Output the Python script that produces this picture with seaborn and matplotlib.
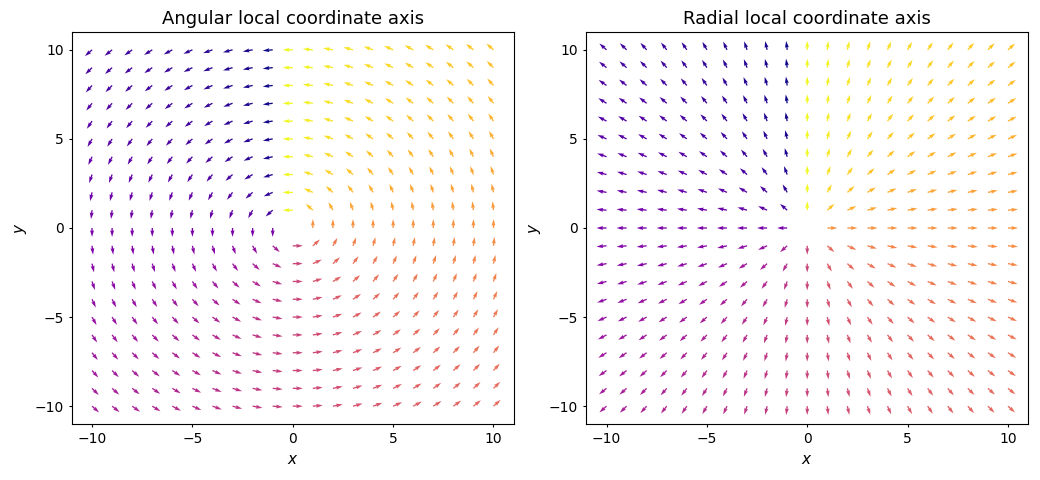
import numpy as np
import matplotlib
matplotlib.use("Agg")
import matplotlib.pyplot as plt
import seaborn as sns

# grid coordinates (both axes)
grid_vals = [-10, -9, -8, -7, -6, -5, -4, -3, -2, -1, 0, 1, 2, 3, 4, 5, 6, 7, 8, 9, 10]
titles = ["Angular local coordinate axis", "Radial local coordinate axis"]
tick_vals = [-10, -5, 0, 5, 10]

sns.set_theme(style="ticks", rc={
    "axes.edgecolor": "black", "text.color": "black", "axes.labelcolor": "black",
    "xtick.color": "black", "ytick.color": "black",
    "xtick.major.size": 2.5, "ytick.major.size": 2.5,
    "xtick.major.width": 0.8, "ytick.major.width": 0.8,
    "axes.linewidth": 0.8,
    "font.size": 10, "axes.titlesize": 13, "axes.labelsize": 11,
    "xtick.labelsize": 10, "ytick.labelsize": 10,
})
plt.rcParams["font.family"] = ["DejaVu Sans"]

X, Y = np.meshgrid(np.array(grid_vals, float), np.array(grid_vals, float))
R = np.hypot(X, Y)
R[R == 0] = np.nan
phi = np.arctan2(Y, X)
C = np.where(phi <= np.pi / 2, phi + 2 * np.pi, phi)

# radial and angular unit vectors
ur, vr = X / R, Y / R
ua, va = -Y / R, X / R

fig, axes = plt.subplots(1, 2, figsize=(10.4, 4.8), dpi=100)
fig.subplots_adjust(left=0.0692, right=0.9885, bottom=0.1167, top=0.9333, wspace=0.165)

for ax, (u, v), title in zip(axes, [(ua, va), (ur, vr)], titles):
    ax.quiver(X, Y, u, v, C, cmap="plasma", angles="xy", scale_units="xy", scale=2.0,
              width=0.003)
    ax.set_xlim(-11, 11)
    ax.set_ylim(-11, 11)
    ax.set_xticks(tick_vals)
    ax.set_yticks(tick_vals)
    ax.set_xlabel("$x$")
    ax.set_ylabel("$y$")
    ax.set_title(title)

fig.savefig("out.png", dpi=100)
